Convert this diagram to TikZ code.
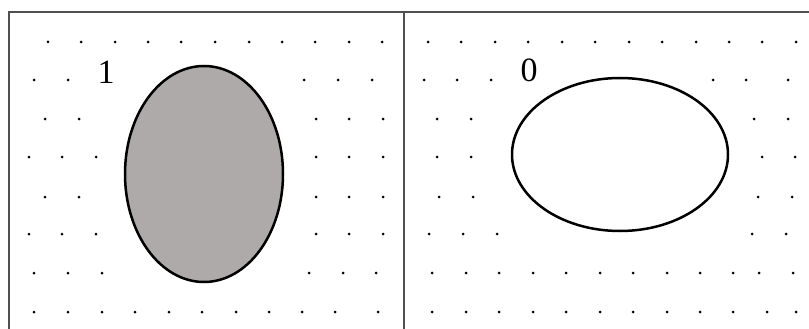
\documentclass[tikz,border=0pt]{standalone}
\usepackage{fontspec}
\setmainfont{Liberation Serif}
\usetikzlibrary{positioning}
\definecolor{blobgray}{HTML}{ADAAA9}
\definecolor{framegray}{HTML}{505050}

\begin{document}
\begin{tikzpicture}[x=1pt, y=-1pt]
    \useasboundingbox (0,0) rectangle (809,329);
    % frame of the two panels
    \draw[framegray, line width=1.1pt] (9,329) -- (9,12) -- (809,12);
    \draw[framegray, line width=1.1pt] (404,12) -- (404,329);
    % grid of dots
    \foreach \y/\xs in {42/{48,81,115,148,181,215,249,282,315,349,382,428,461,495,528,562,595,629,662,696,729,762,796},
                        80/{34,68,304,338,372,424,457,491,713,746,788},
                        119/{45,79,316,349,383,437,471,754,788},
                        157/{29,62,96,316,349,383,437,471,762,795},
                        197/{45,79,316,349,383,439,473,758,792},
                        234/{29,62,96,316,349,383,429,463,497,752,786},
                        273/{34,68,102,309,343,376,432,466,499,533,566,600,633,667,700,733,759,793},
                        312/{34,68,102,135,169,202,236,269,302,335,378,432,466,499,533,566,600,633,667,700,733,767,796}}
        \foreach \x in \xs
            \fill[black] (\x,\y) circle (1.5);
    % the two sets
    \draw[line width=2.5pt, fill=blobgray] (204,174) ellipse (79 and 108);
    \draw[line width=2.5pt] (620,154.5) ellipse (108 and 76.5);
    \node[font=\fontsize{34}{34}\selectfont] (one) at (106,72) {1};
    \node[font=\fontsize{34}{34}\selectfont] (zero) at (529,70) {0};
\end{tikzpicture}
\end{document}
